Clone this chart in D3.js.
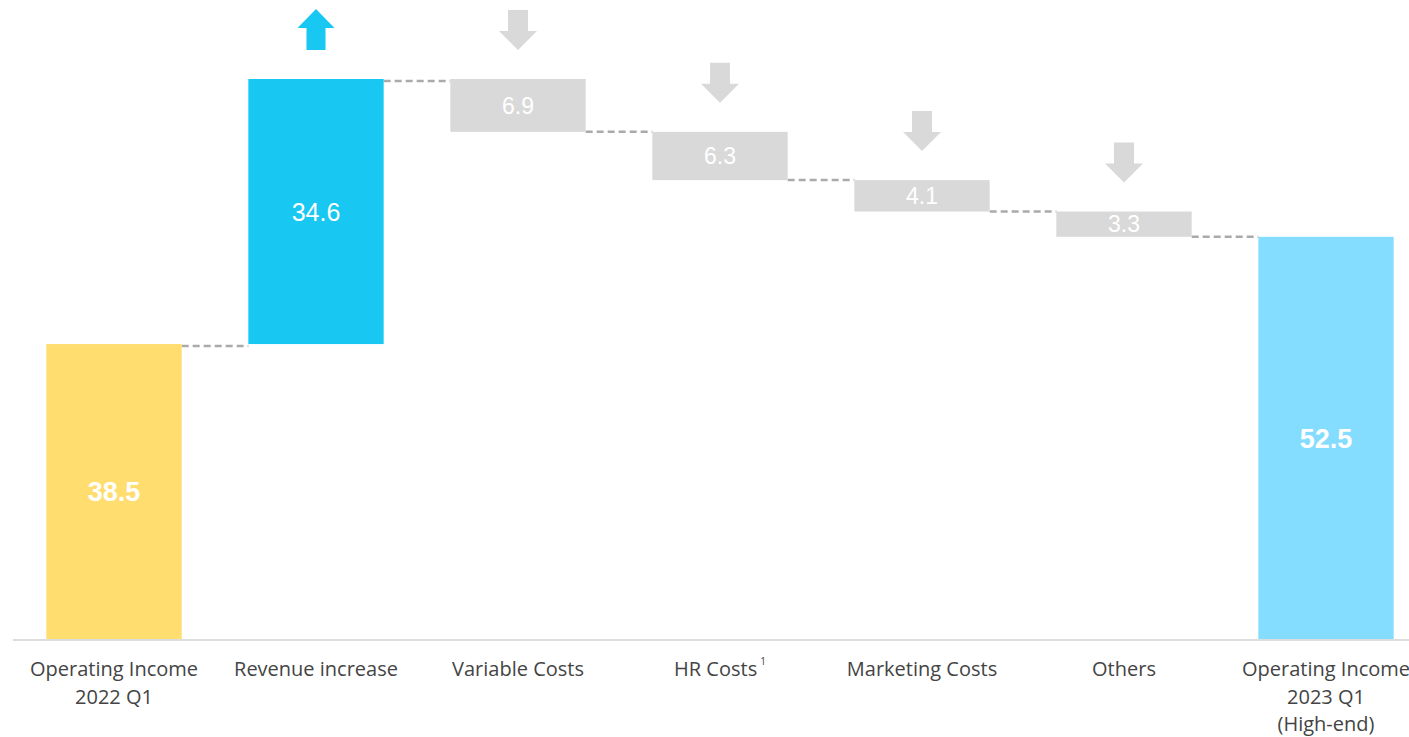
<!DOCTYPE html>
<html>
<head>
<meta charset="utf-8">
<script src="https://cdn.jsdelivr.net/npm/d3@7"></script>
<style>
  body { margin: 0; background: #fff; }
  svg { display: block; }
</style>
</head>
<body>
<div id="chart"></div>
<script>
// waterfall data
var categories = ['oi2022', 'rev', 'var', 'hr', 'mkt', 'oth', 'oi2023'];
var catLabels = [
  ['Operating Income', '2022 Q1'],
  ['Revenue increase'],
  ['Variable Costs'],
  ['HR Costs'],
  ['Marketing Costs'],
  ['Others'],
  ['Operating Income', '2023 Q1', '(High-end)']
];
var values = [38.5, 34.6, -6.9, -6.3, -4.1, -3.3, 52.5];
var kinds = ['total', 'up', 'down', 'down', 'down', 'down', 'total'];
var colors = ['#FFDD6E', '#18C8F2', '#D9D9D9', '#D9D9D9', '#D9D9D9', '#D9D9D9', '#84DDFE'];

var width = 1409, height = 737, baseY = 639;

// running totals
var run = 0;
var bars = values.map(function(v, i) {
  var b;
  if (kinds[i] == 'total') { b = {y0: 0, y1: v}; run = v; }
  else { b = {y0: run, y1: run + v}; run = run + v; }
  b.cat = categories[i]; b.v = v; b.kind = kinds[i]; b.color = colors[i]; b.i = i;
  return b;
});

var x = d3.scaleBand().domain(categories).range([13, 1427])
  .paddingInner(0.33).paddingOuter(0.165);
var y = d3.scaleLinear().domain([0, 73.1]).range([baseY, 79]);

var svg = d3.select('#chart').append('svg')
  .attr('width', width).attr('height', height);

// connectors
bars.slice(0, -1).forEach(function(b, i) {
  var nx = bars[i + 1];
  var lvl = b.kind == 'down' ? Math.min(b.y0, b.y1) : Math.max(b.y0, b.y1);
  var off = b.kind == 'down' ? 0 : 2;
  svg.append('line')
    .attr('x1', x(b.cat) + x.bandwidth())
    .attr('x2', x(nx.cat))
    .attr('y1', y(lvl) + off).attr('y2', y(lvl) + off)
    .attr('stroke', '#aaaaaa')
    .attr('stroke-width', 2.5)
    .attr('stroke-dasharray', '7,4');
});

svg.selectAll('rect.bar').data(bars).enter().append('rect')
  .attr('class', 'bar')
  .attr('x', function(d) { return x(d.cat); })
  .attr('width', x.bandwidth())
  .attr('y', function(d) { return y(Math.max(d.y0, d.y1)); })
  .attr('height', function(d) { return Math.abs(y(d.y0) - y(d.y1)); })
  .attr('fill', function(d) { return d.color; });

// axis line
svg.append('line')
  .attr('x1', 13).attr('x2', width)
  .attr('y1', baseY + 1).attr('y2', baseY + 1)
  .attr('stroke', '#dddddd').attr('stroke-width', 2);

// value labels
svg.selectAll('text.val').data(bars).enter().append('text')
  .attr('class', 'val')
  .attr('x', function(d) { return x(d.cat) + x.bandwidth() / 2; })
  .attr('y', function(d) { return (y(d.y0) + y(d.y1)) / 2; })
  .attr('dy', '0.36em')
  .attr('text-anchor', 'middle')
  .attr('fill', '#ffffff')
  .attr('font-family', 'Liberation Sans, Arial, sans-serif')
  .attr('font-weight', function(d) { return d.kind == 'total' ? 'bold' : 'normal'; })
  .attr('font-size', function(d) {
    if (d.kind == 'down') return '23px';
    return d.kind == 'up' ? '25px' : '27px';
  })
  .text(function(d) { return Math.abs(d.v).toFixed(1); });

// arrows above the change bars
var arrowUp = 'M0,-41 L18.5,-22 L9.5,-22 L9.5,0 L-9.5,0 L-9.5,-22 L-18.5,-22 Z';
var arrowDown = 'M0,0 L19,-19 L10,-19 L10,-40 L-10,-40 L-10,-19 L-19,-19 Z';
bars.filter(function(d) { return d.kind != 'total'; }).forEach(function(d) {
  var cx = x(d.cat) + x.bandwidth() / 2;
  var top = y(Math.max(d.y0, d.y1)) - 29;
  svg.append('path')
    .attr('d', d.kind == 'up' ? arrowUp : arrowDown)
    .attr('transform', 'translate(' + cx + ',' + top + ')')
    .attr('fill', d.kind == 'up' ? '#18C8F2' : '#D9D9D9');
});

// category labels
var lab = svg.selectAll('text.cat').data(bars).enter().append('text')
  .attr('class', 'cat')
  .attr('text-anchor', 'middle')
  .attr('font-family', 'Open Sans, sans-serif')
  .attr('font-size', '20px')
  .attr('fill', '#444444');

lab.each(function(d) {
  var t = d3.select(this);
  catLabels[d.i].forEach(function(line, k) {
    t.append('tspan')
      .attr('x', x(d.cat) + x.bandwidth() / 2)
      .attr('y', 676 + k * 27.5)
      .text(line);
  });
  if (d.cat == 'hr') {
    t.select('tspan').append('tspan')
      .attr('font-size', '10px')
      .attr('dx', 3)
      .attr('dy', -11)
      .text('1');
  }
});
</script>
</body>
</html>
